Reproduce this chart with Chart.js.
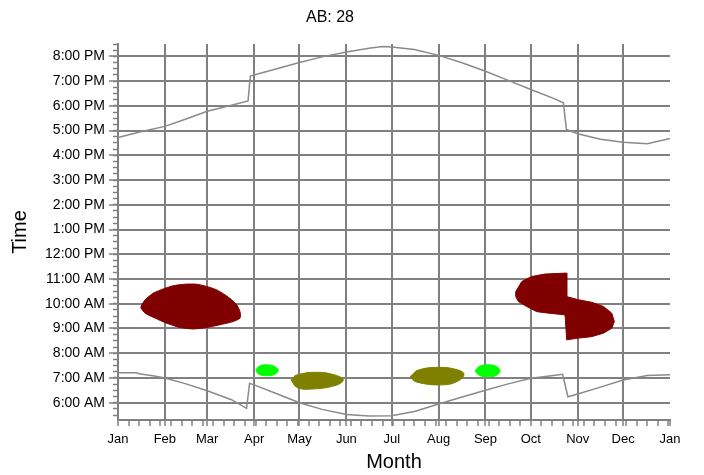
<!DOCTYPE html>
<html>
<head>
<meta charset="utf-8">
<script src="https://cdn.jsdelivr.net/npm/chart.js@4/dist/chart.umd.min.js"></script>
<style>
  html, body { margin: 0; padding: 0; background: #fff; }
  #wrap { width: 704px; height: 475px; }
</style>
</head>
<body>
<div id="wrap"><canvas id="sunChart" width="704" height="475"></canvas></div>
<script>
const chartTitle = 'AB: 28';
const monthLabels = ['Jan','Feb','Mar','Apr','May','Jun','Jul','Aug','Sep','Oct','Nov','Dec','Jan'];
const monthStartDays = [0,31,59,90,120,151,181,212,243,273,304,334,365];
const hourTicks = [6,7,8,9,10,11,12,13,14,15,16,17,18,19,20];

// sunset / sunrise as [day of year, hour of day]
const sunset = [
  [0,16.72],[15,16.95],[31,17.17],[45,17.47],[59,17.78],[75,18.02],[86,18.2],[87.5,19.2],
  [90,19.25],[105,19.5],[120,19.75],[135,19.98],[151,20.18],[166,20.33],[175,20.4],[181,20.38],
  [196,20.28],[212,20.04],[227,19.75],[243,19.4],[258,19.03],[273,18.66],[288,18.3],[294.5,18.12],
  [296.5,17.05],[304,16.87],[319,16.65],[334,16.53],[350,16.47],[365,16.68]
];
const sunrise = [
  [0,7.21],[12,7.21],[14,7.17],[24,7.08],[31,7.0],[45,6.76],[59,6.48],[75,6.12],[85,5.77],
  [87,6.78],[90,6.72],[105,6.36],[120,6.0],[135,5.73],[151,5.52],[166,5.46],[181,5.47],
  [196,5.64],[212,5.95],[227,6.22],[243,6.5],[258,6.76],[273,6.99],[288,7.1],[294,7.15],
  [297.5,6.24],[304,6.35],[319,6.63],[334,6.92],[350,7.1],[365,7.13]
];

// shaded regions, outlines as [day of year, hour of day]
const redEarly = [
  [15.2,9.89],[17.9,10.16],[23.4,10.43],[30,10.6],[36.6,10.73],[44.3,10.79],[52,10.79],[58.7,10.7],
  [65.3,10.56],[70.8,10.36],[75.2,10.16],[78.5,9.96],[80.7,9.68],[80.7,9.42],[76.2,9.28],[67.4,9.15],
  [58.7,9.04],[49.8,8.98],[41,9.04],[32.2,9.21],[24.5,9.42],[17.9,9.62],[15.2,9.82],[15.2,9.89]
];
const redLate = [
  [263,10.49],[267,10.9],[273.5,11.1],[282.3,11.2],[296.7,11.24],[296.7,10.29],[304.4,10.16],
  [313.2,10.06],[321,9.89],[326.5,9.62],[328.2,9.28],[326.5,9.01],[321,8.81],[313.2,8.67],
  [304.4,8.61],[296.7,8.54],[295.6,9.55],[284.6,9.62],[276.9,9.68],[270.2,9.89],[264.7,10.09],
  [263,10.29],[263,10.49]
];
const greenSpring = [
  [91.1,7.32],[93.5,7.48],[97.2,7.53],[103,7.48],[106,7.3],[103,7.13],[98.3,7.09],[93,7.15],[91.1,7.32]
];
const oliveSpring = [
  [114.4,6.92],[118.2,7.12],[131.4,7.23],[143.5,7.12],[149,6.92],[143.5,6.69],[128,6.55],[118.5,6.61],[114.4,6.92]
];
const oliveSummer = [
  [193.1,7.05],[198.6,7.32],[212.9,7.43],[225,7.32],[228.8,7.15],[225,6.88],[215.1,6.72],[197.5,6.83],[193.1,7.05]
];
const greenSummer = [
  [236.1,7.28],[239,7.47],[244.2,7.53],[250,7.47],[252.6,7.28],[250,7.1],[244.2,7.05],[239,7.1],[236.1,7.28]
];

const FONT = '"Liberation Sans", Arial, sans-serif';
const gridGray = '#808080';
const lineGray = '#8a8a8a';

const weekDays = [];
for (let d = 0; d < 365; d += 7) weekDays.push(d);
const xTickDays = Array.from(new Set(weekDays.concat(monthStartDays))).sort((a, b) => a - b);
const quarterHours = [];
for (let h = 5.5; h <= 20.5; h += 0.25) quarterHours.push(h);

function hourLabel(h) {
  const hh = h % 12 === 0 ? 12 : h % 12;
  return hh + ':00 ' + (h < 12 ? 'AM' : 'PM');
}
const toXY = arr => arr.map(p => ({ x: p[0], y: p[1] }));

function sunLine(label, pts) {
  return { label, data: toXY(pts), borderColor: lineGray, borderWidth: 1.5,
    pointRadius: 0, fill: false, tension: 0 };
}
function region(label, pts, color, tension) {
  return { label, data: toXY(pts), borderColor: color, backgroundColor: color, borderWidth: 1,
    pointRadius: 0, fill: 'shape', tension };
}

// custom title, sits a bit left of centre in the original
const titlePlugin = {
  id: 'plotTitle',
  afterDraw(chart) {
    const c = chart.ctx;
    c.save();
    c.font = '16px ' + FONT;
    c.fillStyle = '#000';
    c.textAlign = 'center';
    c.textBaseline = 'middle';
    c.fillText(chartTitle, chart.chartArea.left + 212, 18);
    c.restore();
  }
};

new Chart(document.getElementById('sunChart'), {
  type: 'line',
  data: {
    datasets: [
      sunLine('Sunset', sunset),
      sunLine('Sunrise', sunrise),
      region('A', redEarly, '#800000', 0.2),
      region('B', redLate, '#800000', 0),
      region('C', greenSpring, '#00ff00', 0.4),
      region('D', oliveSpring, '#808000', 0.4),
      region('E', oliveSummer, '#808000', 0.4),
      region('F', greenSummer, '#00ff00', 0.4)
    ]
  },
  options: {
    responsive: false,
    devicePixelRatio: 1,
    animation: false,
    layout: { padding: { top: 44, right: 34, bottom: 0, left: 0 } },
    plugins: { legend: { display: false }, tooltip: { enabled: false }, title: { display: false } },
    scales: {
      x: {
        type: 'linear', position: 'bottom', min: 0, max: 365, weight: 1, z: 1,
        afterBuildTicks: s => { s.ticks = xTickDays.map(v => ({ value: v })); },
        afterFit: s => { s.height = 55; },
        grid: {
          color: c => (c.tick && monthStartDays.includes(c.tick.value) && c.tick.value !== 365) ? gridGray : 'transparent',
          lineWidth: 2, tickColor: gridGray, tickWidth: 1.5, tickLength: 6
        },
        border: { display: true, color: gridGray, width: 2 },
        ticks: {
          autoSkip: false, maxRotation: 0, padding: 6, color: '#000', font: { family: FONT, size: 13 },
          callback: v => { const i = monthStartDays.indexOf(v); return i >= 0 ? monthLabels[i] : ''; }
        },
        title: { display: true, text: 'Month', color: '#000', font: { family: FONT, size: 20 }, padding: { top: 0, bottom: 1 } }
      },
      y: {
        type: 'linear', position: 'left', min: 5.3, max: 20.5, weight: 1, z: 1,
        afterBuildTicks: s => { s.ticks = hourTicks.map(v => ({ value: v })); },
        afterFit: s => { s.width = 118; },
        grid: { color: gridGray, lineWidth: 2, tickColor: gridGray, tickWidth: 1.5, tickLength: 9 },
        border: { display: true, color: gridGray, width: 2 },
        ticks: { color: '#000', padding: 4, font: { family: FONT, size: 14 }, callback: v => hourLabel(v) },
        title: { display: true, text: 'Time', color: '#000', font: { family: FONT, size: 20 }, padding: { top: 8, bottom: 0 } }
      },
      yMinor: {
        type: 'linear', position: 'left', min: 5.3, max: 20.5, weight: 0, z: 1,
        afterBuildTicks: s => { s.ticks = quarterHours.map(v => ({ value: v })); },
        afterFit: s => { s.width = 0; },
        grid: { drawOnChartArea: false, color: gridGray, tickColor: gridGray, tickWidth: 1.5, tickLength: 5 },
        border: { display: false },
        ticks: { display: false }
      }
    }
  },
  plugins: [titlePlugin]
});
</script>
</body>
</html>
